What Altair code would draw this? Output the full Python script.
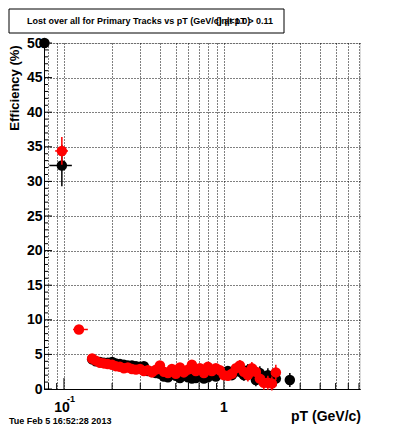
import altair as alt
import pandas as pd

# ---------------- data ----------------
black_pt = [0.0755, 0.097,
            0.150, 0.158, 0.168, 0.178, 0.188, 0.200, 0.211, 0.224, 0.237, 0.251,
            0.266, 0.282, 0.299, 0.316, 0.335, 0.355, 0.376, 0.398, 0.422, 0.447,
            0.473, 0.501, 0.531, 0.562, 0.596, 0.631, 0.668, 0.708, 0.750, 0.794,
            0.841, 0.891, 0.944, 1.000, 1.059, 1.122, 1.189, 1.259, 1.334, 1.413,
            1.496, 1.585, 1.679, 1.778, 1.884, 1.995, 2.113, 2.585]
black_eff = [50.0, 32.3,
             4.3, 4.0, 3.9, 3.8, 3.8, 3.9, 3.7, 3.6, 3.5, 3.4,
             3.4, 3.3, 3.2, 3.3, 2.6, 2.5, 2.3, 2.2, 1.8, 1.7,
             2.4, 1.9, 1.6, 2.0, 1.7, 1.5, 1.6, 2.0, 1.5, 1.7,
             2.3, 1.8, 2.5, 2.4, 2.6, 2.0, 2.6, 2.5, 2.0, 2.7,
             2.2, 1.3, 2.3, 1.2, 2.0, 1.0, 1.5, 1.3]
black_err = [0.0, 3.0,
             0.3, 0.3, 0.3, 0.3, 0.3, 0.3, 0.3, 0.3, 0.3, 0.3,
             0.3, 0.3, 0.3, 0.3, 0.3, 0.3, 0.4, 0.4, 0.4, 0.4,
             0.5, 0.5, 0.5, 0.5, 0.5, 0.5, 0.5, 0.6, 0.6, 0.6,
             0.6, 0.6, 0.7, 0.7, 0.7, 0.7, 0.8, 0.8, 0.8, 0.9,
             0.9, 0.9, 1.0, 1.0, 1.0, 1.0, 1.1, 1.0]
black_xlo = [0.0755, 0.081]
black_xhi = [0.0755, 0.112]

red_pt = [0.097, 0.124,
          0.150, 0.158, 0.168, 0.178, 0.188, 0.200, 0.211, 0.224, 0.237, 0.251,
          0.266, 0.282, 0.299, 0.316, 0.335, 0.355, 0.376, 0.398, 0.422, 0.447,
          0.473, 0.501, 0.531, 0.562, 0.596, 0.631, 0.668, 0.708, 0.750, 0.794,
          0.841, 0.891, 0.944, 1.000, 1.059, 1.122, 1.189, 1.259, 1.334, 1.413,
          1.496, 1.585, 1.679, 1.778, 1.884, 1.995, 2.113]
red_eff = [34.4, 8.6,
           4.4, 4.1, 3.8, 3.7, 3.6, 3.5, 3.3, 3.2, 3.0, 3.1,
           2.9, 2.8, 2.9, 2.6, 2.7, 2.4, 2.8, 3.4, 2.5, 2.3,
           2.9, 2.2, 3.1, 2.4, 2.8, 3.5, 2.6, 3.0, 2.3, 3.2,
           2.6, 3.0, 2.7, 2.0, 1.9, 2.2, 3.0, 3.4, 2.5, 2.0,
           3.0, 2.5, 1.5, 0.9, 0.9, 0.8, 2.4]
red_err = [2.0, 0.6,
           0.3, 0.3, 0.3, 0.3, 0.3, 0.3, 0.3, 0.3, 0.3, 0.3,
           0.3, 0.3, 0.3, 0.3, 0.3, 0.3, 0.4, 0.4, 0.4, 0.4,
           0.5, 0.5, 0.5, 0.5, 0.5, 0.5, 0.5, 0.6, 0.6, 0.6,
           0.6, 0.6, 0.7, 0.7, 0.7, 0.7, 0.8, 0.8, 0.8, 0.9,
           0.9, 0.9, 1.0, 1.0, 1.0, 1.0, 1.1]
red_xlo = [0.088, 0.114]
red_xhi = [0.106, 0.141]

x_grid = [0.08, 0.09, 0.1, 0.2, 0.3, 0.4, 0.5, 0.6, 0.7, 0.8, 0.9,
          1, 2, 3, 4, 5, 6, 7]
x_major = [0.1, 1]
y_major = [0, 5, 10, 15, 20, 25, 30, 35, 40, 45, 50]
y_minor = [v for v in range(0, 51) if v % 5 != 0]

title_text = "Lost over all for Primary Tracks vs pT (GeV/c) at pT > 0.11"
title_overlay = "(|η|<1.0)"
date_text = "Tue Feb  5 16:52:28 2013"

FONT = "Liberation Sans"

# ---------------- tables ----------------
def table(pt, eff, err, xlo, xhi):
    lo_x = list(xlo) + list(pt[len(xlo):])
    hi_x = list(xhi) + list(pt[len(xhi):])
    return pd.DataFrame({
        "pt": pt, "eff": eff,
        "lo": [e - d for e, d in zip(eff, err)],
        "hi": [e + d for e, d in zip(eff, err)],
        "xlo": lo_x, "xhi": hi_x,
    })

df_black = table(black_pt, black_eff, black_err, black_xlo, black_xhi)
df_red = table(red_pt, red_eff, red_err, red_xlo, red_xhi)

xscale = alt.Scale(type="log", domain=[0.075, 7.1], nice=False)
yscale = alt.Scale(domain=[0, 50], nice=False, zero=False)

xaxis = alt.Axis(values=x_grid, labels=False, ticks=False, title=None,
                 grid=True, gridDash=[1, 2], gridColor="black",
                 gridOpacity=1, domainColor="black")
yaxis = alt.Axis(values=y_major, ticks=False, title=None, grid=True,
                 gridDash=[1, 2], gridColor="black", gridOpacity=1,
                 labelFont=FONT, labelFontSize=14, labelFontWeight="bold",
                 labelColor="black", labelPadding=2, labelOverlap=False,
                 domainColor="black")

W, H = 316, 346

def X(field):
    return alt.X(field, scale=xscale, axis=xaxis)

def Y(field):
    return alt.Y(field, scale=yscale, axis=yaxis)

def series(df, color):
    ey = alt.Chart(df).mark_rule(color=color, strokeWidth=1.5).encode(
        x=X("pt:Q"), y=Y("lo:Q"), y2="hi:Q")
    ex = alt.Chart(df).mark_rule(color=color, strokeWidth=1.5).encode(
        x=X("xlo:Q"), x2="xhi:Q", y=Y("eff:Q"))
    pts = alt.Chart(df).mark_circle(color=color, size=110, opacity=1).encode(
        x=X("pt:Q"), y=Y("eff:Q"))
    return [ey, ex, pts]

def yticks(vals, length):
    return alt.Chart(pd.DataFrame({"v": vals})).mark_rule(color="black").encode(
        y=Y("v:Q"), x=alt.value(0), x2=alt.value(length))

def xticks(vals, length):
    return alt.Chart(pd.DataFrame({"v": vals})).mark_rule(color="black").encode(
        x=X("v:Q"), y=alt.value(H), y2=alt.value(H - length))

def text(t, x, y, size, align="left", angle=None, baseline="middle"):
    kw = dict(font=FONT, fontSize=size, fontWeight="bold", color="black",
              align=align, baseline=baseline)
    if angle is not None:
        kw["angle"] = angle
    return alt.Chart(pd.DataFrame({"t": [t]})).mark_text(**kw).encode(
        x=alt.value(x), y=alt.value(y), text="t:N")

title_box = alt.Chart(pd.DataFrame({"a": [0]})).mark_rect(
    fill="white", stroke="black", strokeWidth=1).encode(
    x=alt.value(-35), x2=alt.value(240), y=alt.value(-34), y2=alt.value(-10))

layers = [xticks([v for v in x_grid if v not in x_major], 6), xticks(x_major, 11),
          yticks(y_minor, 4), yticks(y_major, 8)]
layers += series(df_black, "black")
layers += series(df_red, "#ff0000")
layers += [
    title_box,
    text(title_text, 106, -22, 9, align="center"),
    text(title_overlay, 172, -22, 9, align="left"),
    text("Efficiency (%)", -29, 45, 13, align="center", angle=270),
    text("pT (GeV/c)", 317, H + 28, 14, align="right"),
    text("10", 18, H + 19, 14, align="center"),
    text("-1", 27, H + 10, 9, align="center"),
    text("1", 180, H + 19, 14, align="center"),
    text(date_text, -35, H + 32, 9, align="left"),
]

chart = alt.layer(*layers).properties(
    width=W, height=H,
    autosize=alt.AutoSizeParams(type="none"),
    padding={"left": 36, "top": 35, "right": 30, "bottom": 36},
).configure_view(stroke="black", strokeWidth=1).configure(background="white")

chart.save("out.html", embed_options={"renderer": "svg", "actions": False})
